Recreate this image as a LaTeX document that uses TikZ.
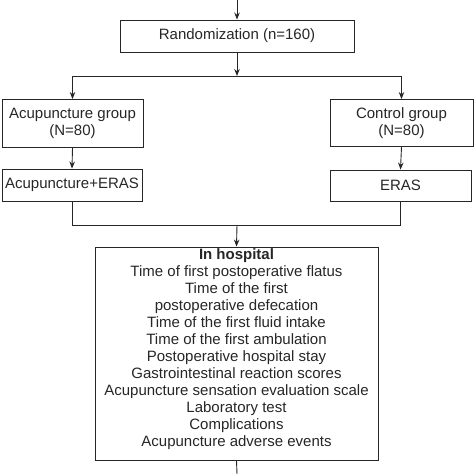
\documentclass[tikz,border=0pt]{standalone}
\usepackage{fontspec}
\setmainfont{Liberation Sans}
\usetikzlibrary{arrows.meta}
\begin{document}
\begin{tikzpicture}[x=1pt,y=-1pt,
  font=\fontsize{15}{17}\selectfont,
  box/.style={draw=black!85, line width=0.9pt, inner sep=0pt, align=center, text=black!85},
  arr/.style={-{Stealth[length=7pt,width=5.5pt]}, line width=0.9pt, draw=black!85},
  ln/.style={line width=0.9pt, draw=black!85}]
\useasboundingbox (0,0) rectangle (474,474);
\node[box, minimum width=234pt, minimum height=32pt] (rand) at (237,36) {Randomization (n=160)};
\node[box, minimum width=141pt, minimum height=48pt] (acu) at (72.5,123.5) {Acupuncture group\\(N=80)};
\node[box, minimum width=143pt, minimum height=47pt] (ctrl) at (401.5,123) {Control group\\(N=80)};
\node[box, minimum width=140pt, minimum height=32pt] (acuE) at (72,185) {Acupuncture+ERAS};
\node[box, minimum width=141pt, minimum height=31pt] (eras) at (400.5,185.5) {ERAS};
\node[box, minimum width=283pt, minimum height=213pt] (hosp) at (236.5,353.5) {};
\node[align=center, inner sep=0pt, anchor=north, text=black!85,
  font=\fontsize{15}{17.05}\selectfont] (hosptxt) at ([yshift=-1.5pt]hosp.north)
  {\textbf{In hospital}\\
   Time of first postoperative flatus\\
   Time of the first\\
   postoperative defecation\\
   Time of the first fluid intake\\
   Time of the first ambulation\\
   Postoperative hospital stay\\
   Gastrointestinal reaction scores\\
   Acupuncture sensation evaluation scale\\
   Laboratory test\\
   Complications\\
   Acupuncture adverse events};
\coordinate (top) at (237,0);
\coordinate (split) at (237,76);
\coordinate (merge) at (237,225);
\coordinate (bottom) at (237,474);
\draw[arr] (top) -- (rand.north);
\draw[arr] (rand.south) -- (split);
\draw[ln] (acu.north |- split) -- (ctrl.north |- split);
\draw[arr] (acu.north |- split) -- (acu.north);
\draw[arr] (ctrl.north |- split) -- (ctrl.north);
\draw[arr] (acu.south) -- (acuE.north);
\draw[arr] (ctrl.south) -- (eras.north);
\draw[ln] (acuE.south) -- (acuE.south |- merge) -- (eras.south |- merge) -- (eras.south);
\draw[arr] (merge) -- (hosp.north);
\draw[ln] (hosp.south) -- (bottom);
\end{tikzpicture}
\end{document}
